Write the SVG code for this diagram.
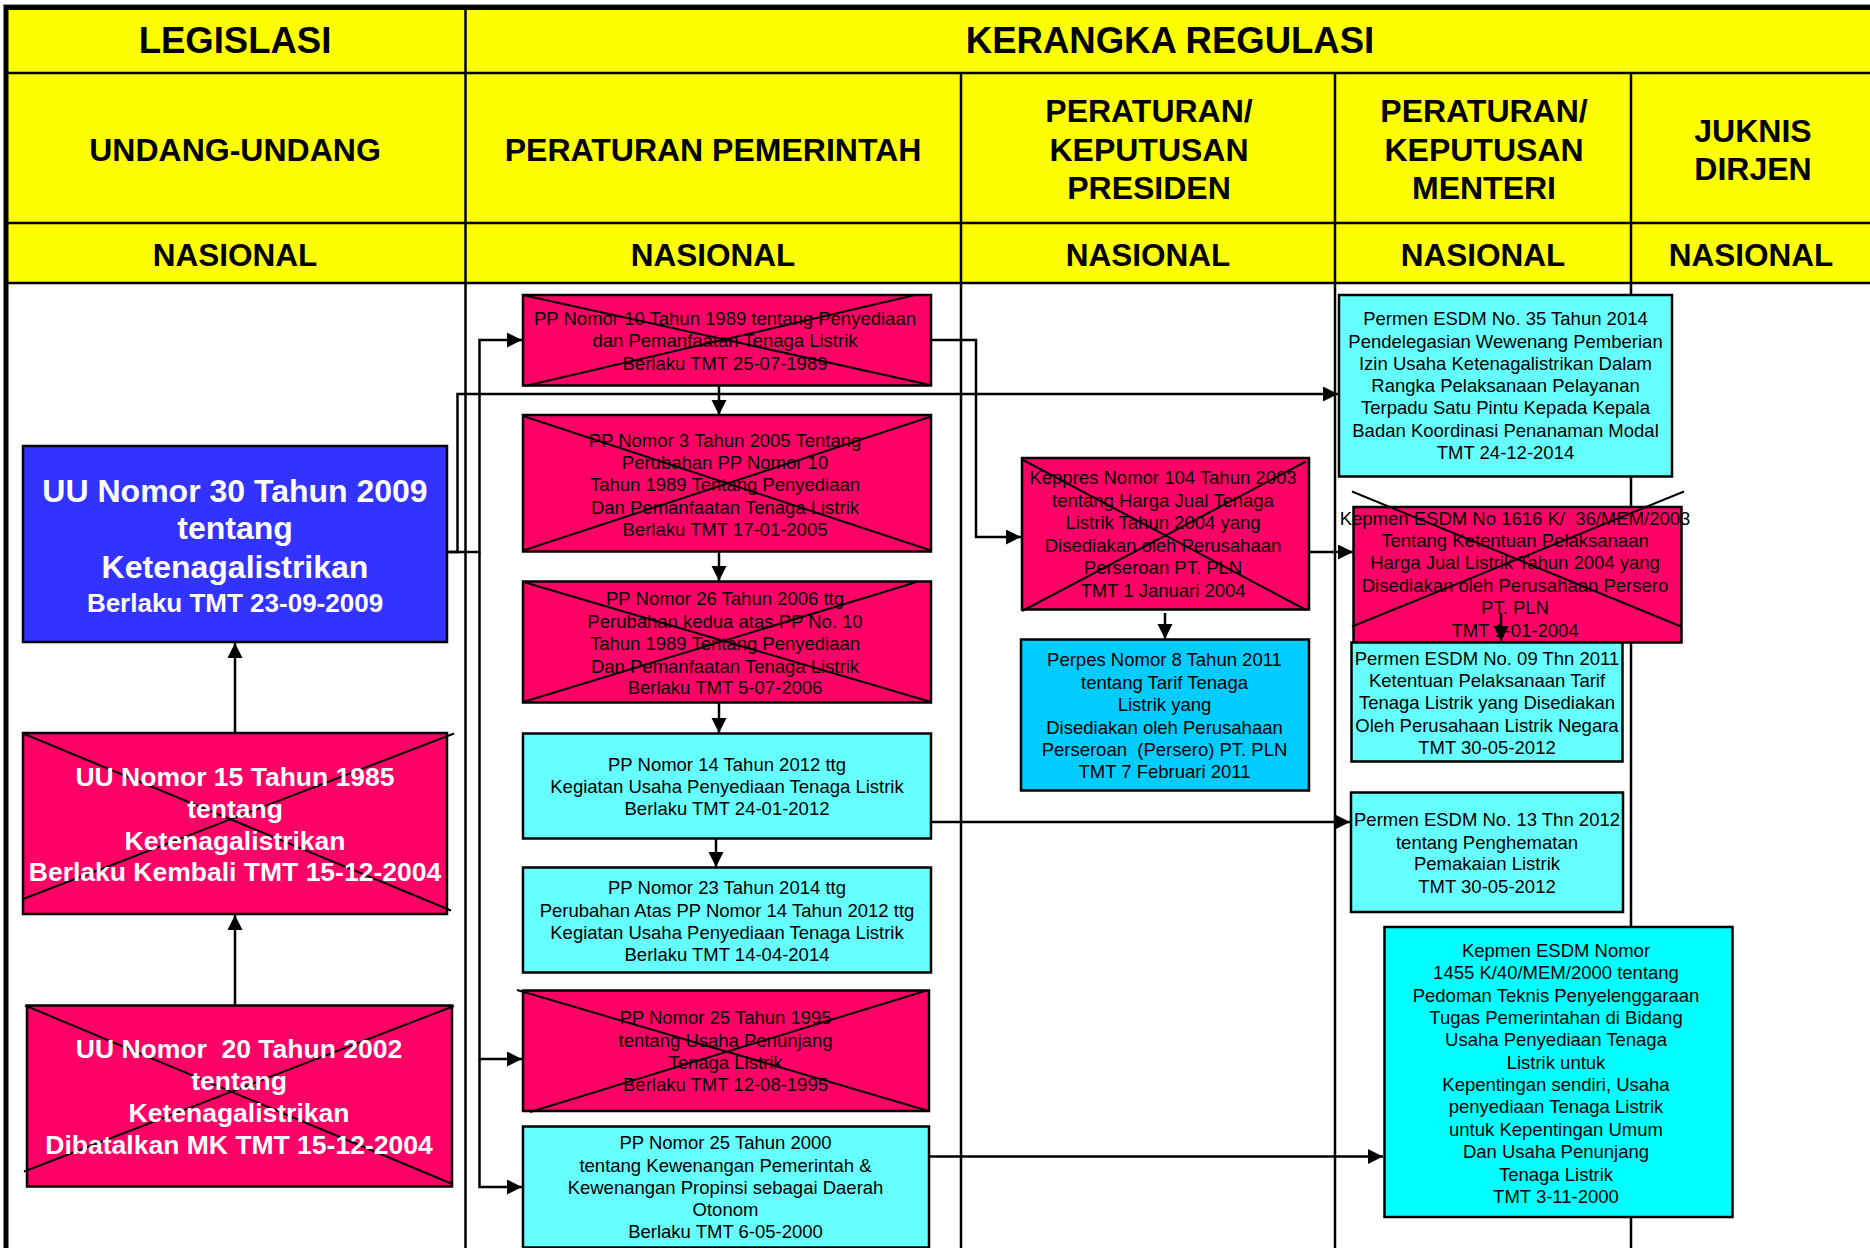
<svg xmlns="http://www.w3.org/2000/svg" width="1870" height="1248" viewBox="0 0 1870 1248">
<style>
text{font-family:"Liberation Sans",Arial,sans-serif;text-anchor:middle}
.h1{font-size:36.5px;font-weight:bold}
.h2{font-size:32px;font-weight:bold}
.h3{font-size:31.5px;font-weight:bold}
.t{font-size:18.5px;fill:#000}
.w{font-weight:bold;fill:#fff}
.pre{white-space:pre}
.grid{stroke:#000;stroke-width:2.5;fill:none}
.box{stroke:#000;stroke-width:2.5}
.pink{fill:#FF0066}
.cyan{fill:#66FFFF}
.aqua{fill:#00FFFF}
.sky{fill:#00CCFF}
.blue{fill:#3333FF}
.x{stroke:#000;stroke-width:2;fill:none}
.c{stroke:#000;stroke-width:2.5;fill:none;marker-end:url(#arr)}
.cn{stroke:#000;stroke-width:2.5;fill:none}
</style>
<defs>
<marker id="arr" markerUnits="userSpaceOnUse" markerWidth="16" markerHeight="16" refX="15" refY="7.5" orient="auto">
<path d="M0,0 L15,7.5 L0,15 z" fill="#000"/>
</marker>
</defs>
<rect x="0" y="0" width="1870" height="1248" fill="#fff"/>
<g id="header">
<rect x="6" y="7" width="1864" height="276" fill="#FFFF00"/>
<line x1="3" y1="4.5" x2="1870" y2="4.5" stroke="#999" stroke-width="1"/>
<line x1="4" y1="7.5" x2="1870" y2="7.5" stroke="#000" stroke-width="5"/>
<line x1="6" y1="5" x2="6" y2="1248" stroke="#000" stroke-width="5"/>
<line class="grid" x1="6" y1="73" x2="1870" y2="73"/>
<line class="grid" x1="6" y1="223" x2="1870" y2="223"/>
<line class="grid" x1="6" y1="283" x2="1870" y2="283" stroke-width="3"/>
<line class="grid" x1="465.5" y1="7" x2="465.5" y2="1248"/>
<line class="grid" x1="961" y1="73" x2="961" y2="1248"/>
<line class="grid" x1="1335" y1="73" x2="1335" y2="1248"/>
<line class="grid" x1="1631" y1="73" x2="1631" y2="1248"/>
<text class="h1" x="235" y="53">LEGISLASI</text>
<text class="h1" x="1170" y="53">KERANGKA REGULASI</text>
<text class="h2" x="235" y="161">UNDANG-UNDANG</text>
<text class="h2" x="713" y="161">PERATURAN PEMERINTAH</text>
<text class="h2" x="1149" y="122">PERATURAN/</text>
<text class="h2" x="1149" y="161">KEPUTUSAN</text>
<text class="h2" x="1149" y="199">PRESIDEN</text>
<text class="h2" x="1484" y="122">PERATURAN/</text>
<text class="h2" x="1484" y="161">KEPUTUSAN</text>
<text class="h2" x="1484" y="199">MENTERI</text>
<text class="h2" x="1753" y="142">JUKNIS</text>
<text class="h2" x="1753" y="180">DIRJEN</text>
<text class="h3" x="235" y="266">NASIONAL</text>
<text class="h3" x="713" y="266">NASIONAL</text>
<text class="h3" x="1148" y="266">NASIONAL</text>
<text class="h3" x="1483" y="266">NASIONAL</text>
<text class="h3" x="1751" y="266">NASIONAL</text>
</g>

<g id="connectors">
<path class="c" d="M235,733 L235,643"/>
<path class="c" d="M235,1005 L235,915"/>
<path class="c" d="M447,552 L479.5,552 L479.5,340 L522,340"/>
<path class="c" d="M479.5,552 L479.5,1059 L522,1059"/>
<path class="c" d="M479.5,1059 L479.5,1187 L522,1187"/>
<path class="c" d="M447,552 L457.5,552 L457.5,394 L1338,394"/>
<path class="c" d="M931,340 L976,340 L976,537 L1021,537"/>
<path class="c" d="M1309,552 L1353,552"/>
<path class="c" d="M931,822 L1350,822"/>
<path class="c" d="M929,1156.5 L1383,1156.5"/>
</g>

<g id="uu30">
<rect class="box blue" x="23" y="446" width="424" height="196"/>
<text class="w" x="235" y="501.5" font-size="32">UU Nomor 30 Tahun 2009</text>
<text class="w" x="235" y="538.5" font-size="32">tentang</text>
<text class="w" x="235" y="578" font-size="32">Ketenagalistrikan</text>
<text class="w" x="235" y="611.5" font-size="26">Berlaku TMT 23-09-2009</text>
</g>

<g id="uu15">
<rect class="box pink" x="23" y="733" width="424" height="181"/>
<line class="x" x1="23" y1="733.5" x2="451" y2="910.5"/>
<line class="x" x1="23" y1="899" x2="454" y2="733.5"/>
<text class="w" x="235" y="786" font-size="26.5">UU Nomor 15 Tahun 1985</text>
<text class="w" x="235" y="817.5" font-size="26.5">tentang</text>
<text class="w" x="235" y="849.5" font-size="26.5">Ketenagalistrikan</text>
<text class="w" x="235" y="881" font-size="26.5">Berlaku Kembali TMT 15-12-2004</text>
</g>

<g id="uu20">
<rect class="box pink" x="27" y="1005.5" width="425" height="181"/>
<line class="x" x1="25" y1="1005.5" x2="451" y2="1183.5"/>
<line class="x" x1="24" y1="1171.5" x2="454" y2="1006"/>
<text class="w pre" x="239" y="1058" font-size="26.5">UU Nomor  20 Tahun 2002</text>
<text class="w" x="239" y="1090" font-size="26.5">tentang</text>
<text class="w" x="239" y="1122" font-size="26.5">Ketenagalistrikan</text>
<text class="w" x="239" y="1154" font-size="26.5">Dibatalkan MK TMT 15-12-2004</text>
</g>

<g id="pp10">
<rect class="box pink" x="523" y="295" width="408" height="90.5"/>
<line class="x" x1="525" y1="295.5" x2="930" y2="385"/>
<line class="x" x1="525" y1="386" x2="915" y2="295"/>
<text class="t" x="725" y="325">PP Nomor 10 Tahun 1989 tentang Penyediaan</text>
<text class="t" x="725" y="347">dan Pemanfaatan Tenaga Listrik</text>
<text class="t" x="725" y="369.5">Berlaku TMT 25-07-1989</text>
</g>
<path class="c" d="M719,386 L719,415"/>

<g id="pp3">
<rect class="box pink" x="523" y="415" width="408" height="136.5"/>
<line class="x" x1="523" y1="416" x2="931" y2="550.5"/>
<line class="x" x1="523" y1="550.5" x2="931" y2="416.5"/>
<text class="t" x="725" y="446.5">PP Nomor 3 Tahun 2005 Tentang</text>
<text class="t" x="725" y="468.5">Perubahan PP Nomor 10</text>
<text class="t" x="725" y="491">Tahun 1989 Tentang Penyediaan</text>
<text class="t" x="725" y="513.5">Dan Pemanfaatan Tenaga Listrik</text>
<text class="t" x="725" y="536">Berlaku TMT 17-01-2005</text>
</g>
<path class="c" d="M719,552 L719,581"/>

<g id="pp26">
<rect class="box pink" x="523" y="581.5" width="408" height="121"/>
<line class="x" x1="525" y1="582.5" x2="931" y2="702"/>
<line class="x" x1="523" y1="702" x2="915" y2="582.5"/>
<text class="t" x="725" y="605">PP Nomor 26 Tahun 2006 ttg</text>
<text class="t" x="725" y="627.5">Perubahan kedua atas PP No. 10</text>
<text class="t" x="725" y="650">Tahun 1989 Tentang Penyediaan</text>
<text class="t" x="725" y="672.5">Dan Pemanfaatan Tenaga Listrik</text>
<text class="t" x="725" y="694">Berlaku TMT 5-07-2006</text>
</g>
<path class="c" d="M719,702.5 L719,733"/>

<g id="pp14">
<rect class="box cyan" x="523" y="733.5" width="408" height="105"/>
<text class="t" x="727" y="770.5">PP Nomor 14 Tahun 2012 ttg</text>
<text class="t" x="727" y="793">Kegiatan Usaha Penyediaan Tenaga Listrik</text>
<text class="t" x="727" y="815">Berlaku TMT 24-01-2012</text>
</g>
<path class="c" d="M716,839 L716,867"/>

<g id="pp23">
<rect class="box cyan" x="523" y="867.5" width="408" height="105"/>
<text class="t" x="727" y="893.5">PP Nomor 23 Tahun 2014 ttg</text>
<text class="t" x="727" y="916.5">Perubahan Atas PP Nomor 14 Tahun 2012 ttg</text>
<text class="t" x="727" y="938.5">Kegiatan Usaha Penyediaan Tenaga Listrik</text>
<text class="t" x="727" y="960.5">Berlaku TMT 14-04-2014</text>
</g>

<g id="pp25-1995">
<rect class="box pink" x="523" y="990.5" width="406" height="120.5"/>
<line class="x" x1="517" y1="990" x2="927" y2="1110.5"/>
<line class="x" x1="530" y1="1112" x2="925" y2="991"/>
<text class="t" x="725.5" y="1023.5">PP Nomor 25 Tahun 1995</text>
<text class="t" x="725.5" y="1046.5">tentang Usaha Penunjang</text>
<text class="t" x="725.5" y="1068.5">Tenaga Listrik</text>
<text class="t" x="725.5" y="1091">Berlaku TMT 12-08-1995</text>
</g>

<g id="pp25-2000">
<rect class="box cyan" x="523" y="1126.5" width="406" height="121"/>
<text class="t" x="725.5" y="1148.5">PP Nomor 25 Tahun 2000</text>
<text class="t" x="725.5" y="1171.5">tentang Kewenangan Pemerintah &amp;</text>
<text class="t" x="725.5" y="1193.5">Kewenangan Propinsi sebagai Daerah</text>
<text class="t" x="725.5" y="1215.5">Otonom</text>
<text class="t" x="725.5" y="1238">Berlaku TMT 6-05-2000</text>
</g>

<g id="keppres104">
<rect class="box pink" x="1022" y="458" width="287" height="151.5"/>
<line class="x" x1="1023" y1="460" x2="1306" y2="610"/>
<line class="x" x1="1022" y1="611" x2="1306" y2="461.5"/>
<text class="t" x="1163" y="484">Keppres Nomor 104 Tahun 2003</text>
<text class="t" x="1163" y="506.5">tentang Harga Jual Tenaga</text>
<text class="t" x="1163" y="529">Listrik Tahun 2004 yang</text>
<text class="t" x="1163" y="551.5">Disediakan oleh Perusahaan</text>
<text class="t" x="1163" y="574">Perseroan PT. PLN</text>
<text class="t" x="1163" y="596.5">TMT 1 Januari 2004</text>
</g>
<path class="c" d="M1165,613 L1165,639"/>

<g id="perpes8">
<rect class="box sky" x="1021" y="639.5" width="288" height="151"/>
<text class="t" x="1164.5" y="665.5">Perpes Nomor 8 Tahun 2011</text>
<text class="t" x="1164.5" y="688.5">tentang Tarif Tenaga</text>
<text class="t" x="1164.5" y="711">Listrik yang</text>
<text class="t" x="1164.5" y="733.5">Disediakan oleh Perusahaan</text>
<text class="t pre" x="1164.5" y="756">Perseroan  (Persero) PT. PLN</text>
<text class="t" x="1164.5" y="778">TMT 7 Februari 2011</text>
</g>

<g id="permen35">
<rect class="box cyan" x="1339" y="295" width="333" height="181.5"/>
<text class="t" x="1505.5" y="325">Permen ESDM No. 35 Tahun 2014</text>
<text class="t" x="1505.5" y="347.5">Pendelegasian Wewenang Pemberian</text>
<text class="t" x="1505.5" y="369.5">Izin Usaha Ketenagalistrikan Dalam</text>
<text class="t" x="1505.5" y="391.5">Rangka Pelaksanaan Pelayanan</text>
<text class="t" x="1505.5" y="414">Terpadu Satu Pintu Kepada Kepala</text>
<text class="t" x="1505.5" y="436.5">Badan Koordinasi Penanaman Modal</text>
<text class="t" x="1505.5" y="459">TMT 24-12-2014</text>
</g>

<g id="kepmen1616">
<rect class="box pink" x="1353.5" y="507" width="328" height="135.5"/>
<line class="x" x1="1352" y1="491.5" x2="1681" y2="626.5"/>
<line class="x" x1="1352" y1="626.5" x2="1684" y2="491.5"/>
<text class="t pre" x="1515" y="525">Kepmen ESDM No 1616 K/  36/MEM/2003</text>
<text class="t" x="1515" y="546.5">Tentang Ketentuan Pelaksanaan</text>
<text class="t" x="1515" y="569">Harga Jual Listrik Tahun 2004 yang</text>
<text class="t" x="1515" y="591.5">Disediakan oleh Perusahaan Persero</text>
<text class="t" x="1515" y="614">PT. PLN</text>
<text class="t" x="1515" y="636.5">TMT 1-01-2004</text>
</g>
<path class="c" d="M1501,613 L1501,641"/>

<g id="permen09">
<rect class="box cyan" x="1351.5" y="642.5" width="271" height="119"/>
<text class="t" x="1487" y="664.5">Permen ESDM No. 09 Thn 2011</text>
<text class="t" x="1487" y="686.5">Ketentuan Pelaksanaan Tarif</text>
<text class="t" x="1487" y="709">Tenaga Listrik yang Disediakan</text>
<text class="t" x="1487" y="732">Oleh Perusahaan Listrik Negara</text>
<text class="t" x="1487" y="754">TMT 30-05-2012</text>
</g>

<g id="permen13">
<rect class="box cyan" x="1351" y="792.5" width="272" height="119.5"/>
<text class="t" x="1487" y="826">Permen ESDM No. 13 Thn 2012</text>
<text class="t" x="1487" y="848.5">tentang Penghematan</text>
<text class="t" x="1487" y="870">Pemakaian Listrik</text>
<text class="t" x="1487" y="893">TMT 30-05-2012</text>
</g>

<g id="kepmen1455">
<rect class="box aqua" x="1384.5" y="927" width="348" height="290"/>
<text class="t" x="1556" y="956.5">Kepmen ESDM Nomor</text>
<text class="t" x="1556" y="979">1455 K/40/MEM/2000 tentang</text>
<text class="t" x="1556" y="1001.5">Pedoman Teknis Penyelenggaraan</text>
<text class="t" x="1556" y="1023.5">Tugas Pemerintahan di Bidang</text>
<text class="t" x="1556" y="1046">Usaha Penyediaan Tenaga</text>
<text class="t" x="1556" y="1068.5">Listrik untuk</text>
<text class="t" x="1556" y="1090.5">Kepentingan sendiri, Usaha</text>
<text class="t" x="1556" y="1113">penyediaan Tenaga Listrik</text>
<text class="t" x="1556" y="1135.5">untuk Kepentingan Umum</text>
<text class="t" x="1556" y="1158">Dan Usaha Penunjang</text>
<text class="t" x="1556" y="1180.5">Tenaga Listrik</text>
<text class="t" x="1556" y="1203">TMT 3-11-2000</text>
</g>
</svg>
